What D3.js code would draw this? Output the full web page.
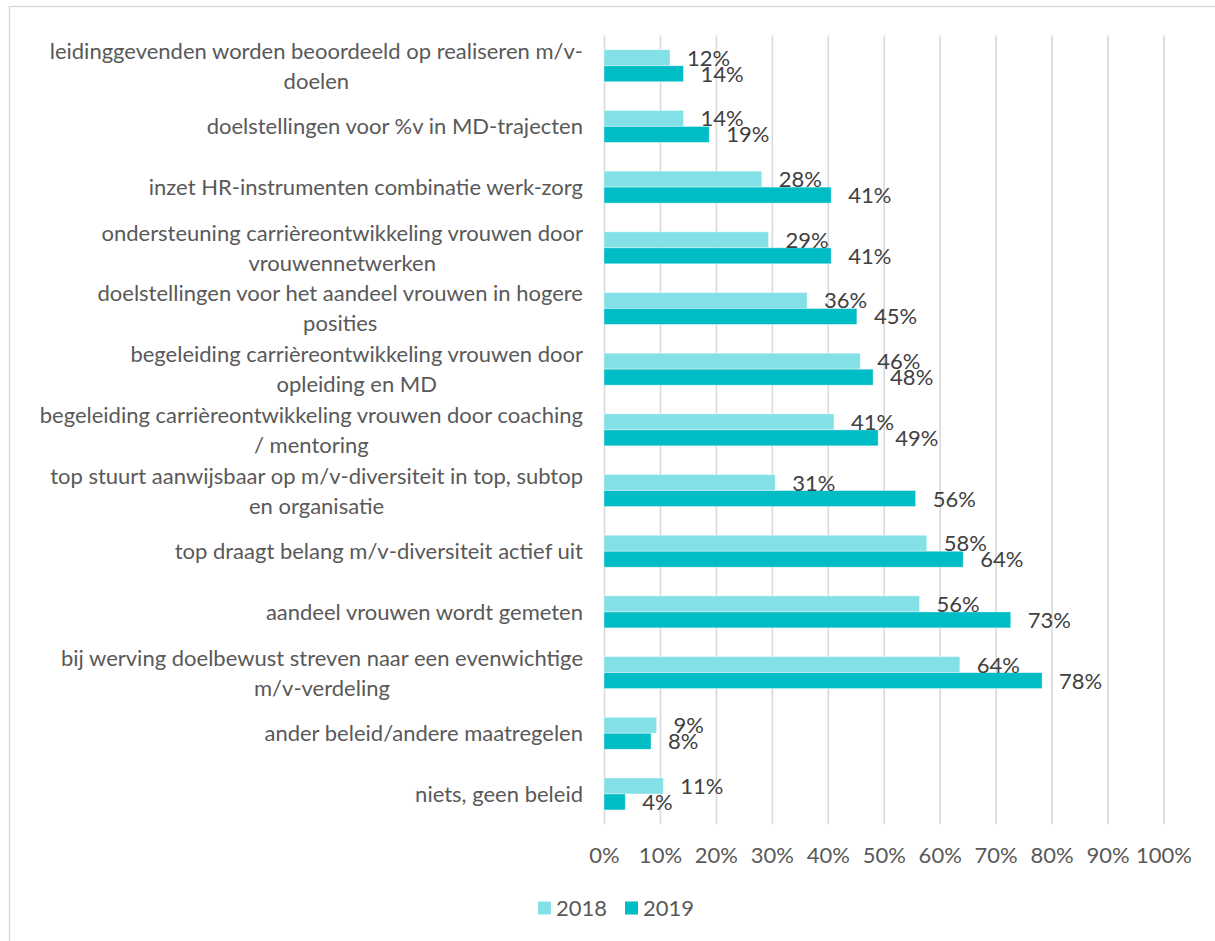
<!DOCTYPE html>
<html>
<head>
<meta charset="utf-8">
<script src="https://cdn.jsdelivr.net/npm/d3@7"></script>
<style>
    body { margin: 0; background: #fff; }
    svg { display: block; font-family: Lato, "Open Sans", sans-serif; }
</style>
</head>
<body>
<svg id="bar_svg" width="1215" height="941"></svg>
<script>

var categories = [
    "leidinggevenden worden beoordeeld op realiseren m/v-\ndoelen",
    "doelstellingen voor %v in MD-trajecten",
    "inzet HR-instrumenten combinatie werk-zorg",
    "ondersteuning carrièreontwikkeling vrouwen door\nvrouwennetwerken",
    "doelstellingen voor het aandeel vrouwen in hogere\nposities",
    "begeleiding carrièreontwikkeling vrouwen door\nopleiding en MD",
    "begeleiding carrièreontwikkeling vrouwen door coaching\n/ mentoring",
    "top stuurt aanwijsbaar op m/v-diversiteit in top, subtop\nen organisatie",
    "top draagt belang m/v-diversiteit actief uit",
    "aandeel vrouwen wordt gemeten",
    "bij werving doelbewust streven naar een evenwichtige\nm/v-verdeling",
    "ander beleid/andere maatregelen",
    "niets, geen beleid"
];

var seriesNames = ["2018", "2019"];
var values2018 = [0.118, 0.142, 0.282, 0.294, 0.363, 0.458, 0.411, 0.306, 0.577, 0.564, 0.636, 0.094, 0.106];
var values2019 = [0.142, 0.188, 0.406, 0.406, 0.452, 0.481, 0.490, 0.557, 0.642, 0.727, 0.783, 0.084, 0.038];
var tickValues = [0, 0.1, 0.2, 0.3, 0.4, 0.5, 0.6, 0.7, 0.8, 0.9, 1];
var seriesColors = ["#84e0e7", "#00bcc5"];


function DrawBars() {
    var self = this;

    self.svg = d3.select("#bar_svg");
    self.rows = categories.map(function (c, i) {
        return { name: c, values: [values2018[i], values2019[i]] };
    });

    self.init();
}

DrawBars.prototype.init = function () {
    var self = this;

    self.scaleX = d3.scaleLinear()
        .domain([0, 1])
        .range([604, 1163.5]);

    self.scaleY = d3.scaleBand()
        .domain(categories)
        .range([35.4, 824.3])
        .paddingInner(0.473)
        .paddingOuter(0.2365);

    self.scaleSub = d3.scaleBand()
        .domain(seriesNames)
        .range([0, self.scaleY.bandwidth()]);
};

DrawBars.prototype.draw = function () {
    var self = this;

    // chart frame (runs off the right and bottom edges)
    self.svg.append('rect')
        .attr('x', 9.5)
        .attr('y', 6.5)
        .attr('width', 1240)
        .attr('height', 960)
        .attr('fill', 'none')
        .attr('stroke', '#d9d9d9')
        .attr('stroke-width', 1.3);

    var xAxis = d3.axisBottom(self.scaleX)
        .tickValues(tickValues)
        .tickSize(-(824.3 - 35.4))
        .tickPadding(23)
        .tickFormat(d3.format('.0%'));

    var gx = self.svg.append('g')
        .attr('transform', 'translate(0,824.3)')
        .call(xAxis);
    gx.select('.domain').remove();
    gx.selectAll('.tick line')
        .attr('stroke', '#d9d9d9')
        .attr('stroke-width', 1.6);
    gx.selectAll('.tick text')
        .attr('fill', '#595959')
        .attr('font-size', 22)
        .attr('font-family', 'Lato, sans-serif');

    var groups = self.svg.selectAll('.group')
        .data(self.rows)
        .enter().append('g')
        .classed('group', true)
        .attr('transform', function (d) {
            return 'translate(0,' + self.scaleY(d.name) + ')';
        });

    groups.selectAll('.bar')
        .data(function (d) {
            return d.values.map(function (v, i) { return { key: seriesNames[i], value: v, idx: i }; });
        })
        .enter().append('rect')
        .classed('bar', true)
        .attr('x', self.scaleX(0))
        .attr('y', function (d) { return self.scaleSub(d.key); })
        .attr('width', function (d) { return self.scaleX(d.value) - self.scaleX(0); })
        .attr('height', self.scaleSub.bandwidth())
        .attr('fill', function (d) { return seriesColors[d.idx]; })
        .attr('stroke', '#ffffff')
        .attr('stroke-opacity', 0.5)
        .attr('stroke-width', 0.8);

    groups.selectAll('.lbl')
        .data(function (d) {
            return d.values.map(function (v, i) { return { key: seriesNames[i], value: v }; });
        })
        .enter().append('text')
        .classed('lbl', true)
        .attr('x', function (d) { return self.scaleX(d.value) + 17; })
        .attr('y', function (d) { return self.scaleSub(d.key) + self.scaleSub.bandwidth() / 2 + 8; })
        .attr('fill', '#404040')
        .attr('font-size', 22)
        .text(function (d) { return Math.round(d.value * 100) + '%'; });

    // category labels: block right aligned, lines centred
    var right = 583, lineH = 30;
    self.rows.forEach(function (row) {
        var lines = row.name.split('\n');
        var cy = self.scaleY(row.name) + self.scaleY.bandwidth() / 2;
        var t = self.svg.append('text')
            .attr('text-anchor', 'middle')
            .attr('fill', '#595959')
            .attr('font-size', 22);
        lines.forEach(function (l, i) {
            t.append('tspan')
                .attr('y', cy + (i - (lines.length - 1) / 2) * lineH + 8)
                .text(l);
        });
        var maxW = 0;
        t.selectAll('tspan').each(function () {
            maxW = Math.max(maxW, this.getComputedTextLength());
        });
        t.selectAll('tspan').attr('x', right - maxW / 2);
    });

    // legend
    var legend = self.svg.append('g');
    var lx = 0;
    seriesNames.forEach(function (s, i) {
        var g = legend.append('g').attr('transform', 'translate(' + lx + ',0)');
        g.append('rect')
            .attr('x', 0).attr('y', -6.5)
            .attr('width', 13).attr('height', 13)
            .attr('fill', seriesColors[i]);
        var txt = g.append('text')
            .attr('x', 18).attr('y', 8)
            .attr('fill', '#595959')
            .attr('font-size', 22)
            .text(s);
        lx += 18 + txt.node().getComputedTextLength() + 18;
    });
    var lw = lx - 18;
    legend.attr('transform', 'translate(' + (616 - lw / 2) + ',908)');

    console.log('ready!');
};

var chart = new DrawBars();
chart.draw();

</script>
</body>
</html>
